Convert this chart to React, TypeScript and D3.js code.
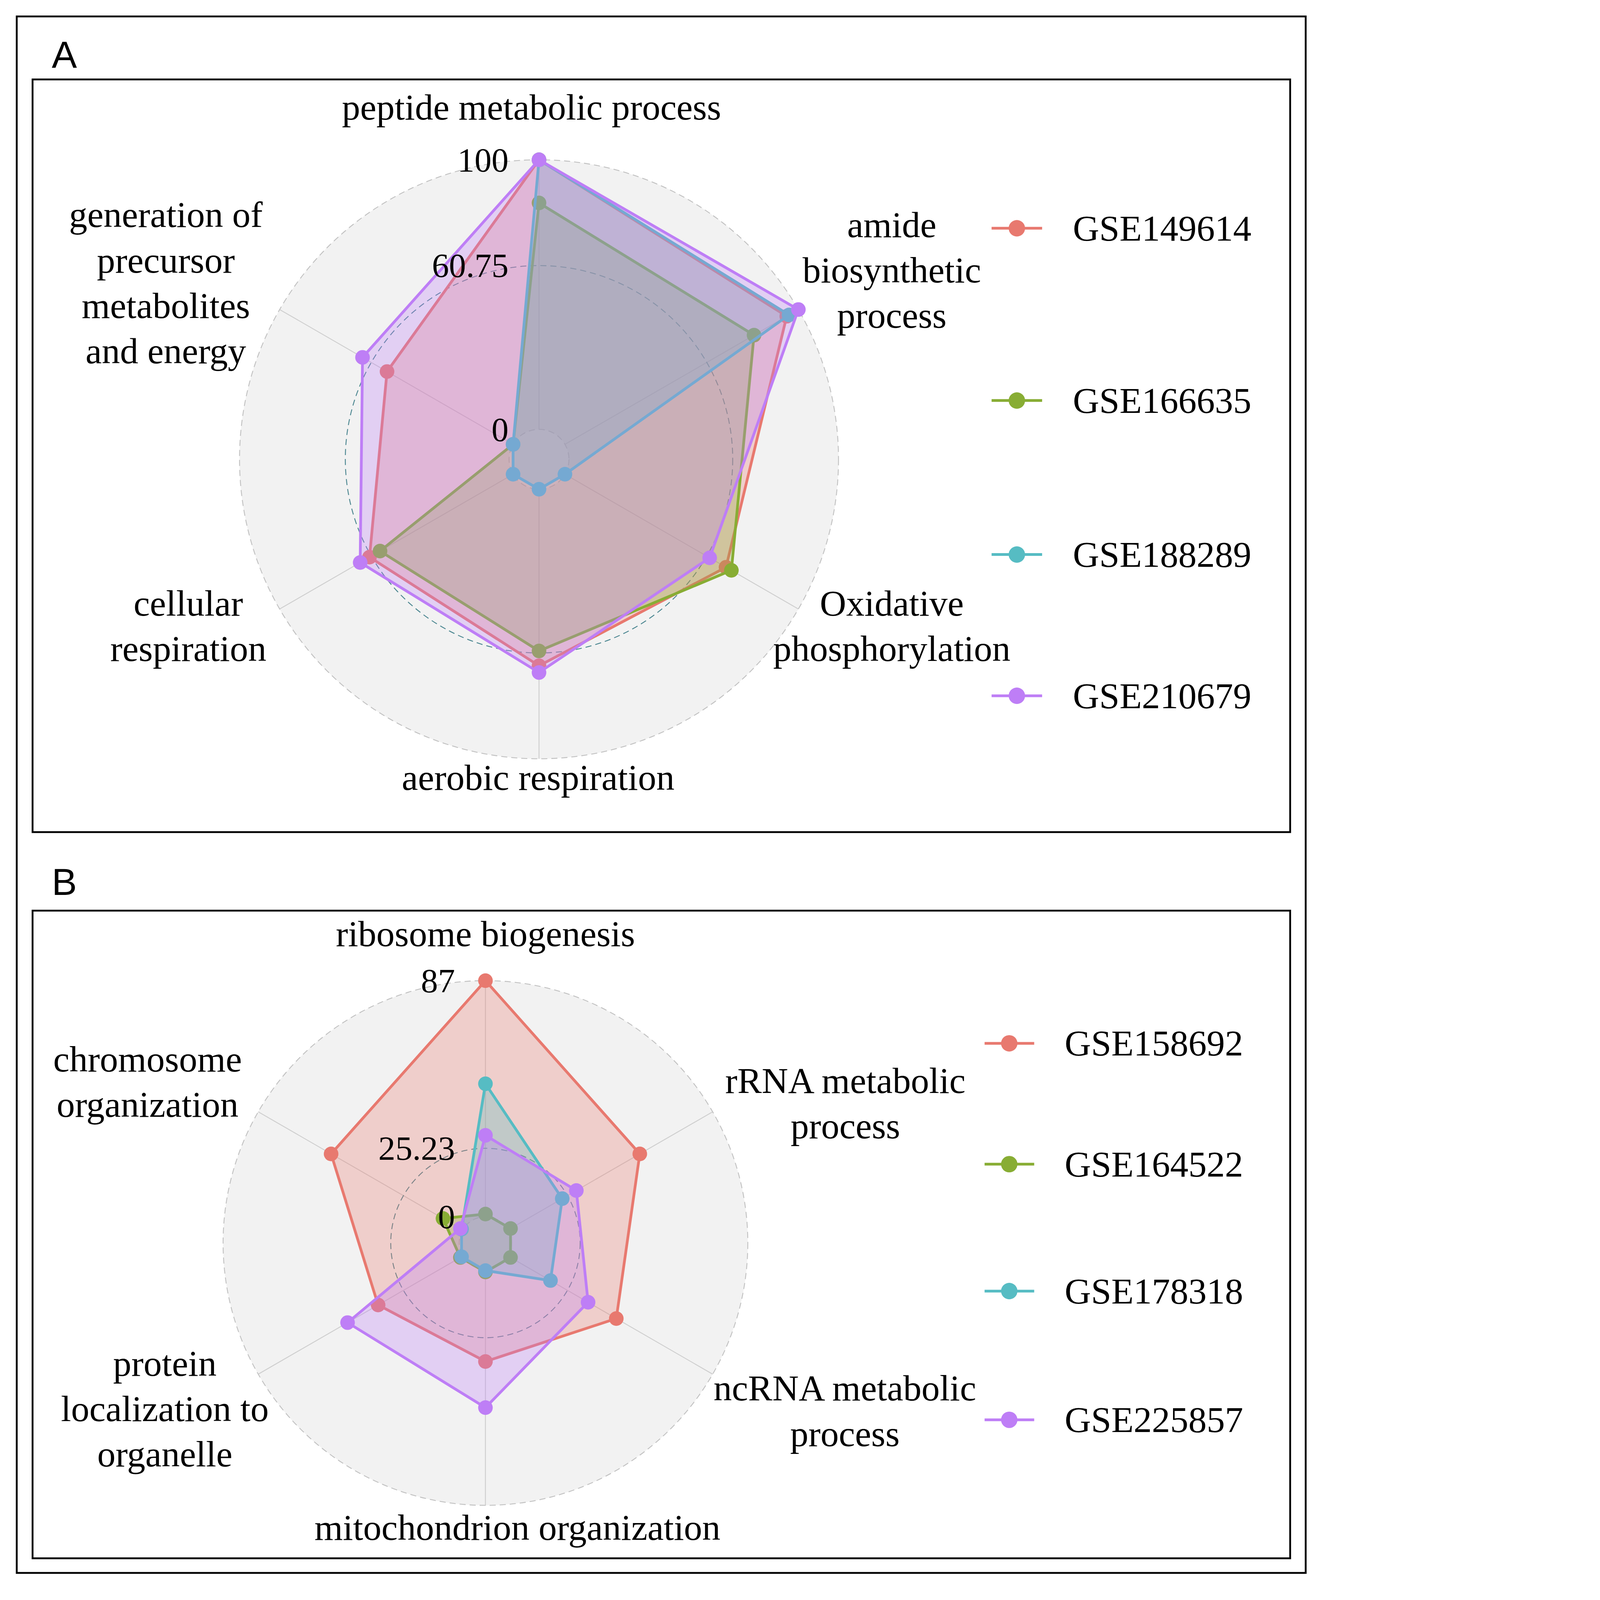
import React from 'react';
import * as d3 from 'd3';

// ---------- Panel A data ----------
const categoriesA = [
  'peptide metabolic process',
  'amide biosynthetic process',
  'Oxidative phosphorylation',
  'aerobic respiration',
  'cellular respiration',
  'generation of precursor metabolites and energy',
];
const labelLinesA = [
  ['peptide metabolic process'],
  ['amide', 'biosynthetic', 'process'],
  ['Oxidative', 'phosphorylation'],
  ['aerobic respiration'],
  ['cellular', 'respiration'],
  ['generation of', 'precursor', 'metabolites', 'and energy'],
];
const seriesNamesA = ['GSE149614', 'GSE166635', 'GSE188289', 'GSE210679'];
const valuesA_GSE149614 = [100, 95, 69, 65.5, 61.5, 54];
const valuesA_GSE166635 = [84, 81, 71.3, 60, 57, 0];
const valuesA_GSE188289 = [100, 96, 0, 0, 0, 0];
const valuesA_GSE210679 = [100, 100, 62, 68, 65.5, 64.5];
const ticksA = [0, 60.75, 100];

// ---------- Panel B data ----------
const categoriesB = [
  'ribosome biogenesis',
  'rRNA metabolic process',
  'ncRNA metabolic process',
  'mitochondrion organization',
  'protein localization to organelle',
  'chromosome organization',
];
const labelLinesB = [
  ['ribosome biogenesis'],
  ['rRNA metabolic', 'process'],
  ['ncRNA metabolic', 'process'],
  ['mitochondrion organization'],
  ['protein', 'localization to', 'organelle'],
  ['chromosome', 'organization'],
];
const seriesNamesB = ['GSE158692', 'GSE164522', 'GSE178318', 'GSE225857'];
const valuesB_GSE158692 = [87, 56, 46, 34, 36, 56];
const valuesB_GSE164522 = [1, 1, 1, 1, 1, 8.4];
const valuesB_GSE178318 = [49, 23, 18, 0.5, 0.5, 0.5];
const valuesB_GSE225857 = [30, 29, 34, 51, 49, 1];
const ticksB = [0, 25.23, 87];

const colors = ['#E8796F', '#88AD34', '#56BCC3', '#BE7EF6'];

type PanelCfg = {
  letter: string;
  letterY: number;
  box: [number, number, number, number];
  cx: number;
  cy: number;
  R: number;
  labelLines: string[][];
  labelPos: [number, number][];
  names: string[];
  values: number[][];
  ticks: number[];
  legendY: number[];
  legendLine: [number, number];
  legendMarkerX: number;
  legendTextX: number;
};

const SERIF = "'Liberation Serif', 'Times New Roman', serif";

function RadarPanel({ cfg }: { cfg: PanelCfg }) {
  const { cx, cy, R, ticks } = cfg;
  const maxV = ticks[ticks.length - 1];
  const r0 = 0.1 * R;
  const rScale = d3.scaleLinear().domain([0, maxV]).range([r0, R]);
  const n = cfg.labelLines.length;
  const angle = d3.scaleLinear().domain([0, n]).range([0, 2 * Math.PI]);
  const radar = d3
    .lineRadial<number>()
    .angle((_, i) => angle(i))
    .radius((v) => rScale(v))
    .curve(d3.curveLinearClosed);
  const annulus = d3.arc()({
    innerRadius: r0,
    outerRadius: R,
    startAngle: 0,
    endAngle: 2 * Math.PI,
  } as any) as string;
  const lineH = 149;
  const [bx0, by0, bx1, by1] = cfg.box;
  return (
    <g>
      <text x={170} y={cfg.letterY} fontFamily="'Liberation Sans', Arial, sans-serif" fontSize={124}>
        {cfg.letter}
      </text>
      <rect x={bx0} y={by0} width={bx1 - bx0} height={by1 - by0} fill="none" stroke="#000" strokeWidth={6} />
      <g transform={`translate(${cx},${cy})`}>
        <path d={annulus} fill="#F2F2F2" />
        {d3.range(n).map((i) => {
          const a = angle(i);
          return (
            <line
              key={i}
              x1={r0 * Math.sin(a)}
              y1={-r0 * Math.cos(a)}
              x2={R * Math.sin(a)}
              y2={-R * Math.cos(a)}
              stroke="#CFCFCF"
              strokeWidth={3}
            />
          );
        })}
        {ticks.map((t, i) => (
          <circle
            key={i}
            r={rScale(t)}
            fill="none"
            stroke={i === 1 ? '#4C8791' : '#C2C2C2'}
            strokeWidth={3}
            strokeDasharray="20,13"
          />
        ))}
        {cfg.values.map((vals, s) => (
          <g key={s}>
            <path d={radar(vals) as string} fill={colors[s]} fillOpacity={0.3} stroke={colors[s]} strokeWidth={9} strokeLinejoin="round" />
            {vals.map((v, i) => (
              <circle
                key={i}
                cx={rScale(v) * Math.sin(angle(i))}
                cy={-rScale(v) * Math.cos(angle(i))}
                r={24}
                fill={colors[s]}
              />
            ))}
          </g>
        ))}
        {ticks.map((t, i) => (
          <text
            key={i}
            x={-100}
            y={-rScale(t)}
            textAnchor="end"
            dominantBaseline="central"
            fontFamily={SERIF}
            fontSize={112}
            fill="#000"
          >
            {String(t)}
          </text>
        ))}
      </g>
      {cfg.labelLines.map((lines, i) => {
        const [kx, ky] = cfg.labelPos[i];
        const x = cx + kx * R;
        const mid = cy + ky * R;
        return (
          <text key={i} fontFamily={SERIF} fontSize={120} textAnchor="middle" fill="#000">
            {lines.map((ln, j) => (
              <tspan key={j} x={x} y={mid + (j - (lines.length - 1) / 2) * lineH}>
                {ln}
              </tspan>
            ))}
          </text>
        );
      })}
      {cfg.names.map((nm, s) => (
        <g key={nm}>
          <line
            x1={cfg.legendLine[0]}
            x2={cfg.legendLine[1]}
            y1={cfg.legendY[s]}
            y2={cfg.legendY[s]}
            stroke={colors[s]}
            strokeWidth={9}
          />
          <circle cx={cfg.legendMarkerX} cy={cfg.legendY[s]} r={27} fill={colors[s]} />
          <text
            x={cfg.legendTextX}
            y={cfg.legendY[s]}
            dominantBaseline="central"
            fontFamily={SERIF}
            fontSize={120}
            fill="#000"
          >
            {nm}
          </text>
        </g>
      ))}
    </g>
  );
}

const panelA: PanelCfg = {
  letter: 'A',
  letterY: 222,
  box: [107, 261, 4239, 2734],
  cx: 1771,
  cy: 1509,
  R: 984,
  labelLines: labelLinesA,
  labelPos: [
    [-0.025, -1.134],
    [1.178, -0.591],
    [1.178, 0.598],
    [-0.003, 1.104],
    [-1.171, 0.598],
    [-1.246, -0.548],
  ],
  names: seriesNamesA,
  values: [valuesA_GSE149614, valuesA_GSE166635, valuesA_GSE188289, valuesA_GSE210679],
  ticks: ticksA,
  legendY: [750, 1316, 1822, 2286],
  legendLine: [3258, 3424],
  legendMarkerX: 3341,
  legendTextX: 3525,
};

const panelB: PanelCfg = {
  letter: 'B',
  letterY: 2940,
  box: [107, 2992, 4239, 5120],
  cx: 1595,
  cy: 4084,
  R: 862,
  labelLines: labelLinesB,
  labelPos: [
    [0, -1.132],
    [1.372, -0.486],
    [1.37, 0.687],
    [0.122, 1.131],
    [-1.222, 0.679],
    [-1.288, -0.567],
  ],
  names: seriesNamesB,
  values: [valuesB_GSE158692, valuesB_GSE164522, valuesB_GSE178318, valuesB_GSE225857],
  ticks: ticksB,
  legendY: [3428, 3825, 4242, 4665],
  legendLine: [3235, 3398],
  legendMarkerX: 3316,
  legendTextX: 3498,
};

export default function App() {
  void categoriesA;
  void categoriesB;
  return (
    <svg
      viewBox="0 0 4335 5257"
      preserveAspectRatio="xMinYMin meet"
      style={{
        position: 'absolute',
        left: 0,
        top: 0,
        width: '100vw',
        height: '100vh',
        maxWidth: 4335,
        maxHeight: 5257,
        display: 'block',
        background: '#fff',
      }}
    >
      <rect x={0} y={0} width={4335} height={5257} fill="#fff" />
      <rect x={55} y={54} width={4235} height={5114} fill="none" stroke="#000" strokeWidth={6} />
      <RadarPanel cfg={panelA} />
      <RadarPanel cfg={panelB} />
    </svg>
  );
}
